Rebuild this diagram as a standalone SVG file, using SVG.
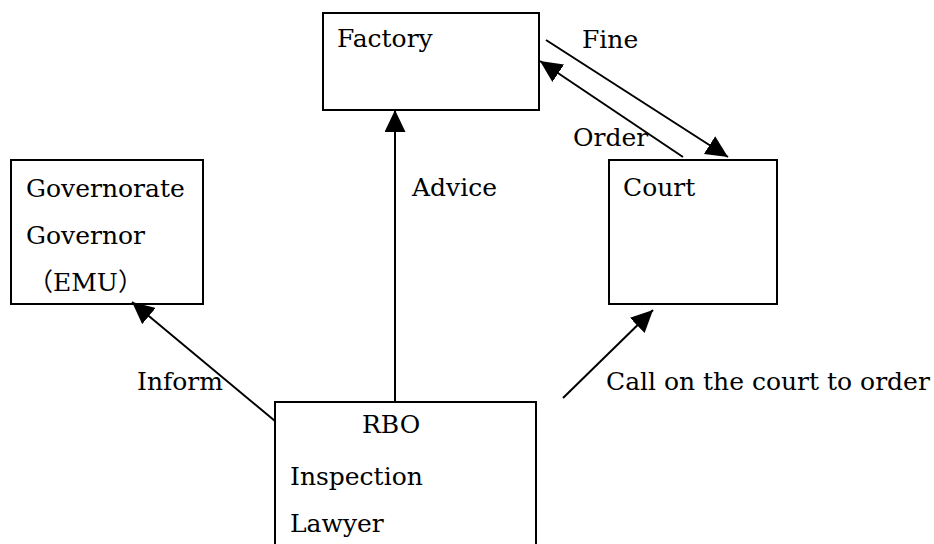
<svg xmlns="http://www.w3.org/2000/svg" width="934" height="544" viewBox="0 0 934 544">
<defs>
<style>
.box{fill:#fff;stroke:#000;stroke-width:2}
.con{fill:none;stroke:#000;stroke-width:2}
text{font-family:"DejaVu Serif","Liberation Serif","Noto Sans CJK JP",serif;font-size:25px;fill:#000}
</style>
<marker id="ah" markerUnits="userSpaceOnUse" markerWidth="23" markerHeight="21" refX="22" refY="10.5" orient="auto" viewBox="0 0 23 21">
<path d="M0,0 L22,10.5 L0,21 z" fill="#000"/>
</marker>
</defs>
<rect width="934" height="544" fill="#fff"/>
<g id="factory">
<rect class="box" x="323" y="13" width="216" height="97"/>
<text x="337" y="47">Factory</text>
</g>
<g id="governorate">
<rect class="box" x="11" y="160" width="192" height="144"/>
<text x="26" y="197">Governorate</text>
<text x="26" y="244">Governor</text>
<text x="28" y="291">（EMU）</text>
</g>
<g id="court">
<rect class="box" x="609" y="160" width="168" height="144"/>
<text x="623" y="196">Court</text>
</g>
<g id="rbo">
<rect class="box" x="275" y="402" width="261" height="150"/>
<text x="362" y="433">RBO</text>
<text x="290" y="485">Inspection</text>
<text x="290" y="532">Lawyer</text>
</g>
<g id="connectors">
<line class="con" x1="395" y1="401" x2="395" y2="110" marker-end="url(#ah)"/>
<line class="con" x1="546" y1="40" x2="728" y2="157" marker-end="url(#ah)"/>
<line class="con" x1="683" y1="157" x2="540" y2="61" marker-end="url(#ah)"/>
<line class="con" x1="275" y1="421" x2="132" y2="302" marker-end="url(#ah)"/>
<line class="con" x1="563" y1="398" x2="653" y2="310" marker-end="url(#ah)"/>
<text x="582" y="48">Fine</text>
<text x="573" y="146">Order</text>
<text x="412" y="196">Advice</text>
<text x="137" y="390">Inform</text>
<text x="606" y="390">Call on the court to order</text>
</g>
</svg>
